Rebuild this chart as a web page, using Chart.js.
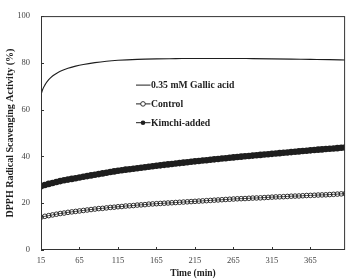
<!DOCTYPE html>
<html><head><meta charset="utf-8">
<script src="https://cdn.jsdelivr.net/npm/chart.js@4/dist/chart.umd.min.js"></script>
<style>html,body{margin:0;padding:0;background:#fff;}#wrap{width:350px;height:279px;position:relative;}</style>
</head><body><div id="wrap"><canvas id="c"></canvas></div>
<script>
const times = [15,20,25,30,35,40,45,50,55,60,65,70,75,80,85,90,95,100,105,110,115,120,125,130,135,140,145,150,155,160,165,170,175,180,185,190,195,200,205,210,215,220,225,230,235,240,245,250,255,260,265,270,275,280,285,290,295,300,305,310,315,320,325,330,335,340,345,350,355,360,365,370,375,380,385,390,395,400,405,410];
const controlValues = [14.0,14.4,14.7,15.0,15.3,15.6,15.8,16.1,16.3,16.5,16.7,16.9,17.1,17.3,17.5,17.7,17.8,18.0,18.2,18.3,18.5,18.6,18.8,18.9,19.0,19.2,19.3,19.4,19.6,19.7,19.8,19.9,20.0,20.1,20.2,20.3,20.4,20.5,20.6,20.7,20.8,20.9,21.0,21.1,21.2,21.3,21.4,21.5,21.6,21.7,21.8,21.9,21.95,22.0,22.1,22.2,22.25,22.3,22.4,22.5,22.6,22.7,22.75,22.8,22.9,23.0,23.05,23.1,23.2,23.3,23.35,23.4,23.5,23.55,23.6,23.7,23.8,23.9,24.0,24.1];
const kimchiValues = [27.3,27.8,28.25,28.65,29.05,29.45,29.8,30.1,30.4,30.7,31.0,31.3,31.6,31.9,32.15,32.45,32.75,33.05,33.35,33.6,33.9,34.1,34.35,34.55,34.75,34.95,35.15,35.4,35.6,35.8,36.0,36.2,36.4,36.6,36.75,36.95,37.15,37.35,37.5,37.7,37.9,38.05,38.25,38.4,38.6,38.75,38.9,39.1,39.25,39.45,39.6,39.75,39.9,40.05,40.2,40.35,40.5,40.65,40.8,40.95,41.1,41.25,41.4,41.55,41.7,41.85,42.0,42.15,42.3,42.45,42.6,42.75,42.9,43.0,43.15,43.3,43.4,43.55,43.7,43.8];
const gallicTimes = [15,17,20,25,30,35,40,50,60,70,85,100,115,140,165,190,215,240,265,290,315,340,365,390,410];
const gallicValues = [66.3,68.5,70.5,72.8,74.4,75.5,76.4,77.7,78.6,79.3,80.1,80.7,81.1,81.5,81.7,81.8,81.9,81.9,81.9,81.8,81.7,81.6,81.5,81.4,81.2];
const xTickValues = [15,65,115,165,215,265,315,365];
const yTickValues = [0,20,40,60,80,100];
const seriesNames = ['0.35 mM Gallic acid','Control','Kimchi-added'];

const ink = '#1e1e1e';
const serif = '"Liberation Serif","Times New Roman",serif';

const frame = {
  id:'frame',
  afterDatasetsDraw(chart){
    const {ctx, chartArea:a, scales:{x,y}} = chart;
    ctx.save();
    ctx.strokeStyle = '#333'; ctx.lineWidth = 1;
    ctx.strokeRect(a.left+0.5, a.top+0.5, a.right-a.left-1, a.bottom-a.top-1);
    ctx.beginPath();
    xTickValues.forEach(v=>{const px=Math.round(x.getPixelForValue(v))+0.5; ctx.moveTo(px,a.bottom); ctx.lineTo(px,a.bottom-3);});
    yTickValues.forEach(v=>{const py=Math.round(y.getPixelForValue(v))+0.5; ctx.moveTo(a.left,py); ctx.lineTo(a.left+3,py);});
    ctx.stroke();
    // legend
    const lx = a.left+95, ly = a.top+69, gap = 18.8;
    ctx.font = 'bold 9.7px '+serif; ctx.textBaseline='middle'; ctx.fillStyle=ink;
    chart.data.datasets.forEach((ds,i)=>{
      const yy = ly+i*gap;
      ctx.beginPath(); ctx.strokeStyle=ink; ctx.lineWidth=1;
      ctx.moveTo(lx,yy); ctx.lineTo(lx+14.5,yy); ctx.stroke();
      if(i>0){
        ctx.beginPath(); ctx.arc(lx+7,yy,2.3,0,Math.PI*2);
        if(i===2){ctx.fillStyle=ink;ctx.fill();} else {ctx.fillStyle='#fff';ctx.fill();ctx.lineWidth=0.9;ctx.stroke();}
      }
      ctx.fillStyle=ink;
      ctx.fillText(ds.label, lx+15, yy+0.5);
    });
    ctx.restore();
  }
};

new Chart(document.getElementById('c'), {
  type:'line',
  data:{datasets:[
    {label:seriesNames[0], data:gallicTimes.map((t,i)=>({x:t,y:gallicValues[i]})), borderColor:ink, borderWidth:1.1, pointRadius:0, tension:0.4, cubicInterpolationMode:'monotone'},
    {label:seriesNames[1], data:times.map((t,i)=>({x:t,y:controlValues[i]})), borderColor:ink, borderWidth:0.8, pointRadius:2.3, pointBorderWidth:0.9, pointBorderColor:ink, pointBackgroundColor:'rgba(255,255,255,0)'},
    {label:seriesNames[2], data:times.map((t,i)=>({x:t,y:kimchiValues[i]})), borderColor:ink, borderWidth:1, pointRadius:3.3, pointBorderWidth:0, pointBackgroundColor:ink}
  ]},
  options:{
    responsive:true, maintainAspectRatio:false, animation:false,
    layout:{padding:{left:0,right:4,top:5,bottom:0}},
    plugins:{legend:{display:false}, tooltip:{enabled:false}},
    scales:{
      x:{type:'linear', min:15, max:410,
        afterBuildTicks(s){ s.ticks = xTickValues.map(v=>({value:v})); },
        afterFit(s){ s.height = 29; },
        grid:{display:false, drawTicks:false}, border:{display:false},
        ticks:{color:'#444', font:{family:serif,size:8.5}, padding:6, maxRotation:0, autoSkip:false},
        title:{display:true, text:'Time (min)', color:ink, font:{family:serif,size:9.5,weight:'bold'}, padding:{top:0,bottom:0}}
      },
      y:{type:'linear', min:0, max:100,
        afterBuildTicks(s){ s.ticks = yTickValues.map(v=>({value:v})); },
        afterFit(s){ s.width = 41; },
        grid:{display:false, drawTicks:false}, border:{display:false},
        ticks:{color:'#444', font:{family:serif,size:8.5}, padding:11},
        title:{display:true, text:'DPPH Radical Scavenging Activity (%)', color:ink, font:{family:serif,size:10,weight:'bold'}, padding:{top:4,bottom:0}}
      }
    }
  },
  plugins:[frame]
});
</script></body></html>
